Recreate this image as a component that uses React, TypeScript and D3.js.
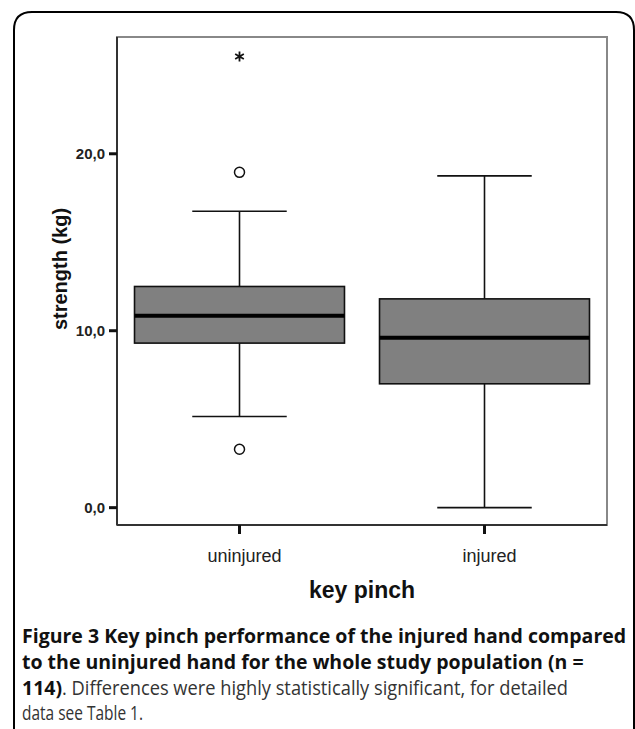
import React, { useEffect } from 'react';
import * as d3 from 'd3';

const categories = ['uninjured', 'injured'];
const q1 = [9.3, 7.0];
const median = [10.85, 9.6];
const q3 = [12.5, 11.8];
const whiskerLow = [5.15, 0];
const whiskerHigh = [16.75, 18.75];
const outlierCats = ['uninjured', 'uninjured'];
const outlierValues = [18.95, 3.3];
const extremeCats = ['uninjured'];
const extremeValues = [25.5];
const yTicks = [0, 10, 20];
const yTickLabels = ['0,0', '10,0', '20,0'];

const W = 635;
const H = 729;
const plot = { left: 117, right: 607, top: 37, bottom: 525 };

const App: React.FC = () => {
  useEffect(() => {
    document.body.style.margin = '0';
  }, []);

  const x = d3.scalePoint<string>().domain(categories).range([plot.left, plot.right]).padding(0.5);
  const y = d3.scaleLinear().domain([-0.98, 26.6]).range([plot.bottom, plot.top]);
  const boxW = x.step() * 0.857;
  const capW = boxW * 0.45;
  const star = d3.symbol(d3.symbolAsterisk, 70)();

  const chartFont = '"Liberation Sans", Arial, sans-serif';
  const capFont = '"Open Sans", sans-serif';

  return (
    <svg width={W} height={H} style={{ display: 'block', background: '#fff' }}>
      {/* panel frame */}
      <path
        d={`M14,${H} L14,30 Q14,12 32,12 L616,12 Q634,12 634,30 L634,${H}`}
        fill="none"
        stroke="#000"
        strokeWidth={2}
      />
      {/* plot border */}
      <rect
        x={plot.left}
        y={plot.top}
        width={plot.right - plot.left}
        height={plot.bottom - plot.top}
        fill="none"
        stroke="#888"
        strokeWidth={2}
      />
      <line x1={plot.left} x2={plot.left} y1={plot.top} y2={plot.bottom} stroke="#333" strokeWidth={2} />
      <line x1={plot.left} x2={plot.right} y1={plot.bottom} y2={plot.bottom} stroke="#333" strokeWidth={2} />

      {/* y ticks */}
      {yTicks.map((t, i) => (
        <g key={t}>
          <line x1={plot.left - 8} x2={plot.left} y1={y(t)} y2={y(t)} stroke="#111" strokeWidth={3} />
          <text
            x={plot.left - 12}
            y={y(t)}
            dy="0.36em"
            textAnchor="end"
            fontFamily={chartFont}
            fontWeight="bold"
            fontSize={15}
            fill="#222"
          >
            {yTickLabels[i]}
          </text>
        </g>
      ))}

      {/* x ticks */}
      {categories.map(c => (
        <g key={c}>
          <line x1={x(c)} x2={x(c)} y1={plot.bottom} y2={plot.bottom + 9} stroke="#111" strokeWidth={3} />
          <text
            x={x(c)! + 5}
            y={562}
            textAnchor="middle"
            fontFamily={chartFont}
            fontSize={18}
            fill="#222"
          >
            {c}
          </text>
        </g>
      ))}

      {/* boxes */}
      {categories.map((c, i) => {
        const cx = x(c)!;
        return (
          <g key={c}>
            <line x1={cx} x2={cx} y1={y(whiskerHigh[i])} y2={y(q3[i])} stroke="#111" strokeWidth={1.6} />
            <line x1={cx} x2={cx} y1={y(q1[i])} y2={y(whiskerLow[i])} stroke="#111" strokeWidth={1.6} />
            <line x1={cx - capW / 2} x2={cx + capW / 2} y1={y(whiskerHigh[i])} y2={y(whiskerHigh[i])} stroke="#111" strokeWidth={1.6} />
            <line x1={cx - capW / 2} x2={cx + capW / 2} y1={y(whiskerLow[i])} y2={y(whiskerLow[i])} stroke="#111" strokeWidth={1.6} />
            <rect
              x={cx - boxW / 2}
              y={y(q3[i])}
              width={boxW}
              height={y(q1[i]) - y(q3[i])}
              fill="#808080"
              stroke="#111"
              strokeWidth={1.6}
            />
            <line x1={cx - boxW / 2} x2={cx + boxW / 2} y1={y(median[i])} y2={y(median[i])} stroke="#000" strokeWidth={4} />
          </g>
        );
      })}

      {/* outliers */}
      {outlierValues.map((v, i) => (
        <circle key={i} cx={x(outlierCats[i])} cy={y(v)} r={5} fill="#fff" stroke="#111" strokeWidth={1.5} />
      ))}
      {extremeValues.map((v, i) => (
        <path
          key={i}
          d={star!}
          transform={`translate(${x(extremeCats[i])},${y(v)})`}
          fill="none"
          stroke="#111"
          strokeWidth={1.8}
        />
      ))}

      {/* axis titles */}
      <text
        transform={`translate(67,${(plot.top + plot.bottom) / 2 - 12}) rotate(-90)`}
        textAnchor="middle"
        fontFamily={chartFont}
        fontWeight="bold"
        fontSize={20}
        fill="#111"
      >
        strength (kg)
      </text>
      <text x={362} y={598} textAnchor="middle" fontFamily={chartFont} fontWeight="bold" fontSize={23} fill="#111">
        key pinch
      </text>

      {/* caption */}
      <g fontFamily={capFont} fontSize={19.5} fill="#111">
        <text x={22} y={643} fontWeight="bold">
          Figure 3 Key pinch performance of the injured hand compared
        </text>
        <text x={22} y={669} fontWeight="bold">
          to the uninjured hand for the whole study population (n =
        </text>
        <text x={22} y={695} fontWeight="bold">
          114)
        </text>
        <text x={62} y={695} fill="#333" textLength={506} lengthAdjust="spacingAndGlyphs">
          . Differences were highly statistically significant, for detailed
        </text>
        <text x={22} y={720} fill="#333" textLength={121} lengthAdjust="spacingAndGlyphs">
          data see Table 1.
        </text>
      </g>
    </svg>
  );
};

export default App;
